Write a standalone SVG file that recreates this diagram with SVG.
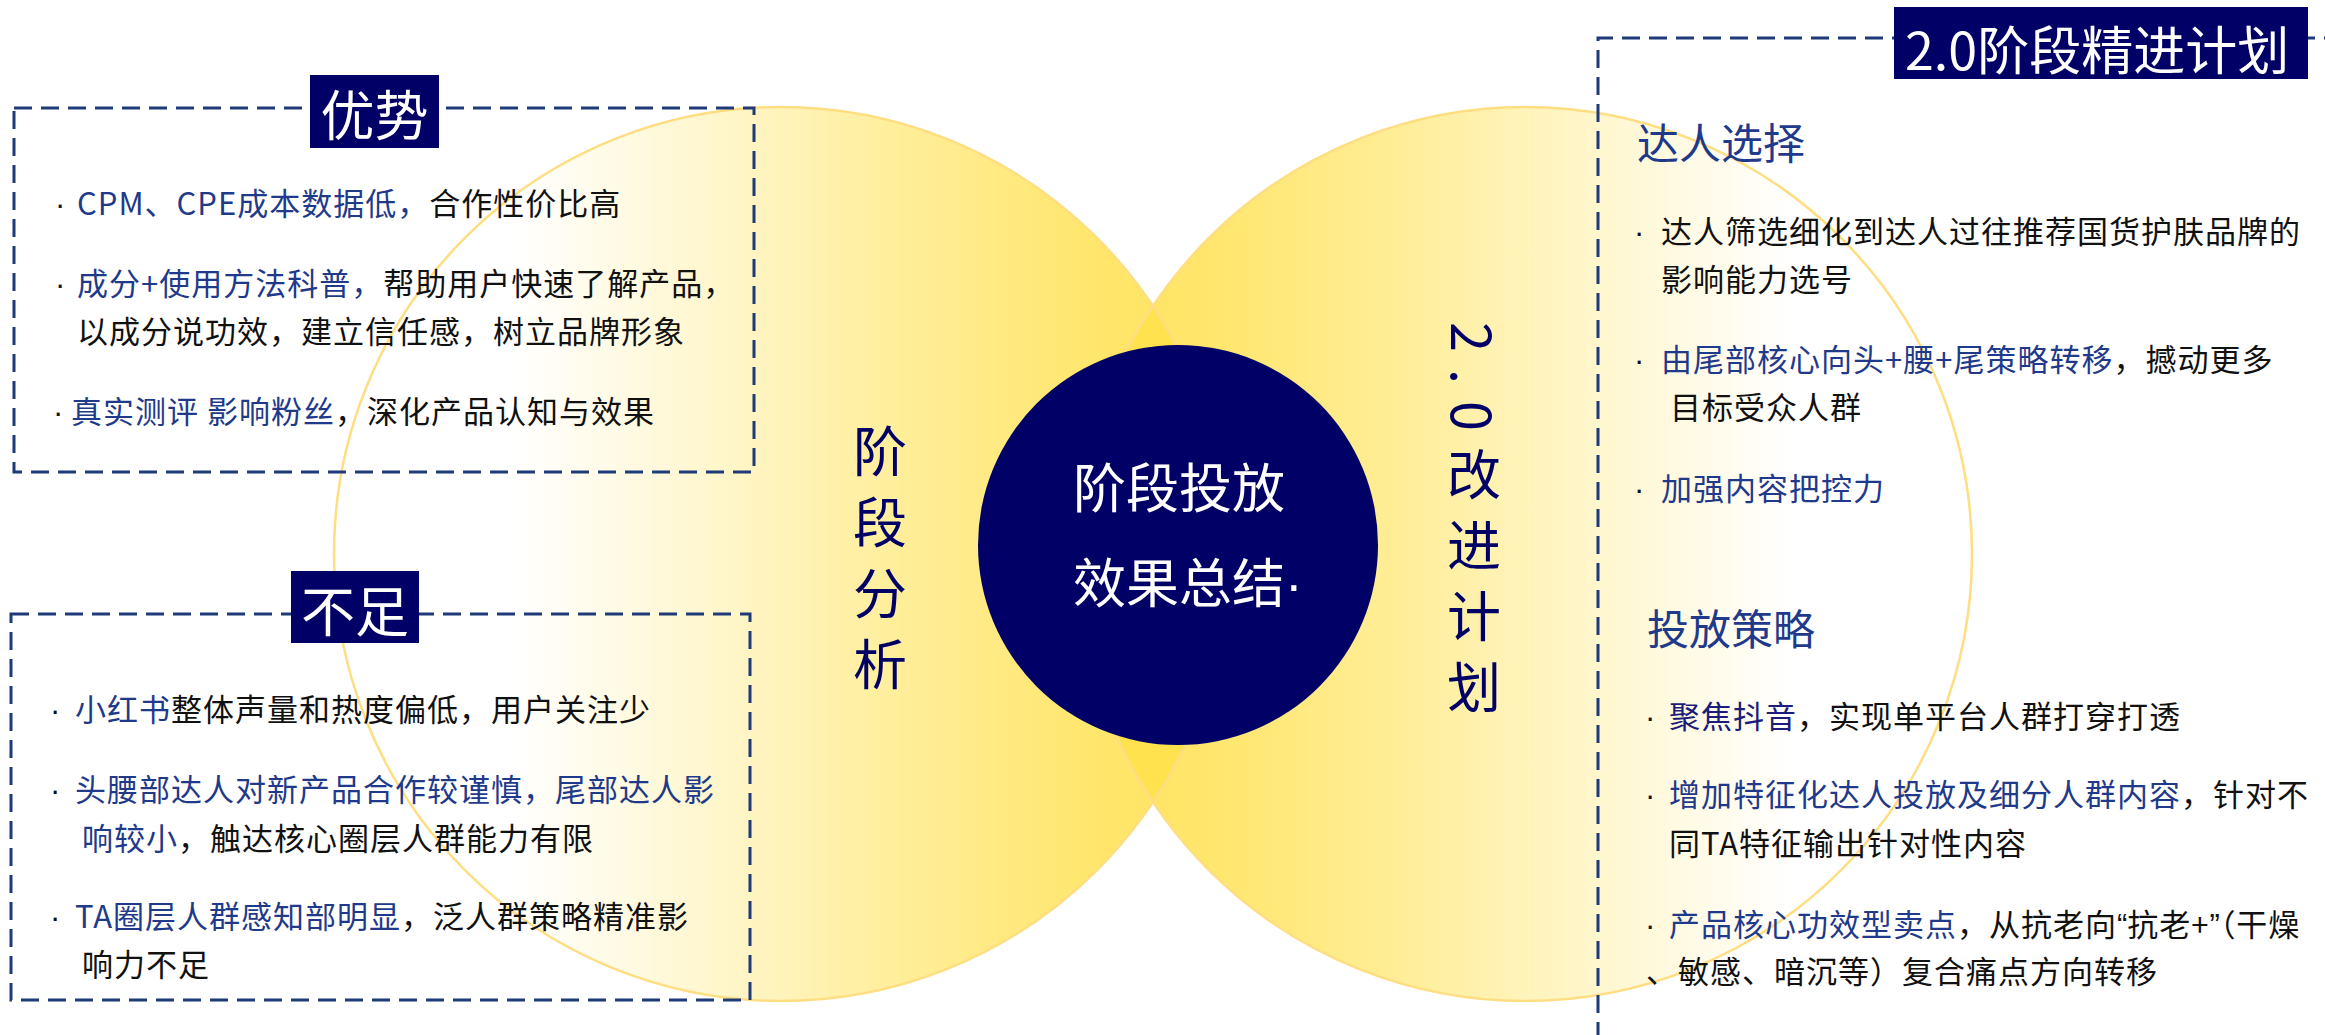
<svg xmlns="http://www.w3.org/2000/svg" width="2325" height="1035" viewBox="0 0 2325 1035">
<defs>
<linearGradient id="gL" gradientUnits="userSpaceOnUse" x1="334" y1="0" x2="1228" y2="0">
<stop offset="0" stop-color="#FFFFFF"/>
<stop offset="0.2" stop-color="#FFFFFF"/>
<stop offset="0.41" stop-color="#FFF7D0"/>
<stop offset="0.63" stop-color="#FFEE9A"/>
<stop offset="0.85" stop-color="#FFE66C"/>
<stop offset="1" stop-color="#FFE35E"/>
</linearGradient>
<linearGradient id="gR" gradientUnits="userSpaceOnUse" x1="1078" y1="0" x2="1972" y2="0">
<stop offset="0" stop-color="#FFE35E"/>
<stop offset="0.15" stop-color="#FFE66C"/>
<stop offset="0.37" stop-color="#FFEE9A"/>
<stop offset="0.59" stop-color="#FFF7D0"/>
<stop offset="0.8" stop-color="#FFFFFF"/>
<stop offset="1" stop-color="#FFFFFF"/>
</linearGradient>
<style>
.ring{stroke:#FFDE82;stroke-width:2.5}
.box{fill:none;stroke:#1F3A78;stroke-width:3;stroke-dasharray:18 9}
.lab{fill:#000066}
.labt{fill:#FFFFFF;font-family:"Noto Sans CJK SC","Noto Sans",sans-serif}
.t{font-family:"Noto Sans CJK SC","Noto Sans",sans-serif;font-size:31px;letter-spacing:1px;fill:#111111}
.d{font-family:"Liberation Sans",sans-serif;letter-spacing:0}
.b{fill:#1F3A8A}
.h{font-family:"Noto Sans CJK SC","Noto Sans",sans-serif;font-size:42px;fill:#1F3A8A}
.v{font-family:"Noto Sans CJK SC","Noto Sans",sans-serif;font-size:54px;fill:#000066;writing-mode:vertical-rl;letter-spacing:17px}
.c{font-family:"Noto Sans CJK SC","Noto Sans",sans-serif;font-size:53px;fill:#FFFFFF}
</style>
</defs>

<g id="venn">
<circle id="circle-left" cx="781" cy="554" r="447" fill="url(#gL)" class="ring"/>
<circle id="circle-right" cx="1525" cy="554" r="447" fill="url(#gR)" class="ring"/>
<path id="lens" d="M1153,306 A447,447 0 0,1 1153,802 A447,447 0 0,1 1153,306 Z" fill="#FFE24E" class="ring"/>
</g>

<g id="connectors"></g>

<g id="stage-analysis">
<text class="v" x="880" y="424">阶段分析</text>
</g>

<g id="improve-plan">
<text class="v" x="1474" y="322">2.0改进计划</text>
</g>

<g id="center">
<circle cx="1178" cy="545" r="200" fill="#000066"/>
<text class="c" x="1073" y="508">阶段投放</text>
<text class="c" x="1073" y="603">效果总结<tspan class="d">·</tspan></text>
</g>

<g id="advantages">
<rect class="box" x="14" y="108" width="740" height="364"/>
<rect class="lab" x="310" y="75" width="129" height="73"/>
<text class="labt" x="374.5" y="136" font-size="54" text-anchor="middle">优势</text>
<text class="t" y="215"><tspan x="55" class="d">·</tspan><tspan x="77" class="b">CPM、CPE成本数据低，</tspan><tspan>合作性价比高</tspan></text>
<text class="t" y="295"><tspan x="55" class="d">·</tspan><tspan x="77" class="b">成分+使用方法科普，</tspan><tspan>帮助用户快速了解产品，</tspan></text>
<text class="t" x="77" y="343">以成分说功效，建立信任感，树立品牌形象</text>
<text class="t" y="423"><tspan x="53" class="d">·</tspan><tspan x="71" class="b">真实测评 影响粉丝</tspan><tspan>，深化产品认知与效果</tspan></text>
</g>

<g id="shortcomings">
<rect class="box" x="11" y="614" width="739" height="386"/>
<rect class="lab" x="291" y="571" width="128" height="72"/>
<text class="labt" x="355" y="632" font-size="54" text-anchor="middle">不足</text>
<text class="t" y="721"><tspan x="50" class="d">·</tspan><tspan x="75" class="b">小红书</tspan><tspan>整体声量和热度偏低，用户关注少</tspan></text>
<text class="t" y="801"><tspan x="50" class="d">·</tspan><tspan x="75" class="b">头腰部达人对新产品合作较谨慎，尾部达人影</tspan></text>
<text class="t" y="850"><tspan x="82" class="b">响较小</tspan><tspan>，触达核心圈层人群能力有限</tspan></text>
<text class="t" y="928"><tspan x="50" class="d">·</tspan><tspan x="75" class="b">TA圈层人群感知部明显</tspan><tspan>，泛人群策略精准影</tspan></text>
<text class="t" x="82" y="976">响力不足</text>
</g>

<g id="plan-2-0">
<path class="box" d="M1598,1040 V38 H2330"/>
<rect class="lab" x="1894" y="7" width="414" height="72"/>
<text class="labt" x="1905" y="70" font-size="52">2.0阶段精进计划</text>
<text class="h" x="1637" y="159">达人选择</text>
<text class="t" y="243"><tspan x="1634" class="d">·</tspan><tspan x="1661">达人筛选细化到达人过往推荐国货护肤品牌的</tspan></text>
<text class="t" x="1661" y="291">影响能力选号</text>
<text class="t" y="371"><tspan x="1634" class="d">·</tspan><tspan x="1661" class="b">由尾部核心向头+腰+尾策略转移</tspan><tspan>，撼动更多</tspan></text>
<text class="t" x="1670" y="419">目标受众人群</text>
<text class="t" y="500"><tspan x="1634" class="d">·</tspan><tspan x="1661" class="b">加强内容把控力</tspan></text>
<text class="h" x="1647" y="645">投放策略</text>
<text class="t" y="728"><tspan x="1645" class="d">·</tspan><tspan x="1669" fill="#1C1C7A">聚焦抖音</tspan><tspan>，实现单平台人群打穿打透</tspan></text>
<text class="t" y="806"><tspan x="1645" class="d">·</tspan><tspan x="1669" class="b">增加特征化达人投放及细分人群内容</tspan><tspan>，针对不</tspan></text>
<text class="t" x="1669" y="855">同TA特征输出针对性内容</text>
<text class="t" y="936"><tspan x="1645" class="d">·</tspan><tspan x="1669" class="b">产品核心功效型卖点</tspan><tspan>，从抗老向</tspan><tspan class="d">“</tspan><tspan>抗老+</tspan><tspan class="d">”</tspan><tspan>（干燥</tspan></text>
<text class="t" x="1646" y="983">、敏感、暗沉等）复合痛点方向转移</text>
</g>
</svg>
